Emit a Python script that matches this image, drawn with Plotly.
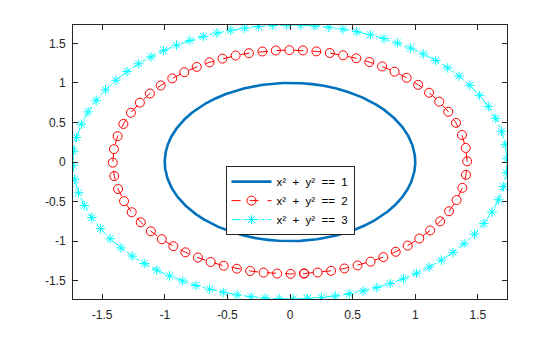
import numpy as np
import plotly.graph_objects as go

# Implicit curves x^2 + y^2 == c
levels = [1, 2, 3]
sp = "\u00a0\u00a0"
labels = [f"x\u00b2{sp}+{sp}y\u00b2{sp}=={sp}{c}" for c in levels]
colors = ["#0072BD", "#FF0000", "#00FFFF"]
dashes = ["solid", "dash", "dashdot"]
widths = [2.6, 1, 1]
symbols = [None, "circle-open", "asterisk-open"]
marker_counts = [0, 68, 80]

tick_vals = [-1.5, -1, -0.5, 0, 0.5, 1, 1.5]
tick_text = ["-1.5", "-1", "-0.5", "0", "0.5", "1", "1.5"]
lim = np.sqrt(3)

W, H = 560, 337
ml, mr, mt, mb = 73, 53, 25, 38
sx = (W - ml - mr) / (2 * lim)
sy = (H - mt - mb) / (2 * lim)


def curve(c, n):
    r = np.sqrt(c)
    t = np.linspace(-np.pi / 2 + 0.08, 3 * np.pi / 2 + 0.08, 4001)
    x, y = r * np.cos(t), r * np.sin(t)
    if n == 0:
        return x, y
    seg = np.hypot(np.diff(x) * sx, np.diff(y) * sy)
    s = np.concatenate([[0], np.cumsum(seg)])
    ss = np.linspace(0, s[-1], n + 1)
    tt = np.interp(ss, s, t)
    return r * np.cos(tt), r * np.sin(tt)


fig = go.Figure()
for c, lab, col, d, w, sym, n in zip(levels, labels, colors, dashes, widths, symbols, marker_counts):
    x, y = curve(c, n)
    if sym is None:
        fig.add_trace(go.Scatter(x=x, y=y, mode="lines", name=lab,
                                 line=dict(color=col, width=w, dash=d)))
    else:
        fig.add_trace(go.Scatter(x=x, y=y, mode="lines+markers", name=lab,
                                 line=dict(color=col, width=w, dash=d),
                                 marker=dict(symbol=sym, size=9 if sym == "circle-open" else 8,
                                             color=col, line=dict(width=1, color=col))))

axis_common = dict(range=[-lim, lim], tickvals=tick_vals, ticktext=tick_text,
                   ticks="inside", ticklen=5, tickwidth=1, tickcolor="#262626",
                   showline=True, linecolor="#262626", linewidth=1, mirror="ticks",
                   showgrid=False, zeroline=False,
                   tickfont=dict(family="Liberation Sans, Arial", size=12, color="#262626"))

fig.update_layout(
    width=W, height=H,
    margin=dict(l=ml, r=mr, t=mt, b=mb),
    paper_bgcolor="white", plot_bgcolor="white",
    xaxis=dict(**axis_common, ticklabelstandoff=5),
    yaxis=dict(**axis_common, ticklabelstandoff=4),
    showlegend=True,
    legend=dict(x=0.5, y=0.485, xanchor="center", yanchor="top",
                bgcolor="white", bordercolor="#262626", borderwidth=1,
                font=dict(family="Liberation Sans, Arial", size=11.5, color="#000000"),
                itemwidth=40, tracegroupgap=0),
)

fig.write_html("out.html")
